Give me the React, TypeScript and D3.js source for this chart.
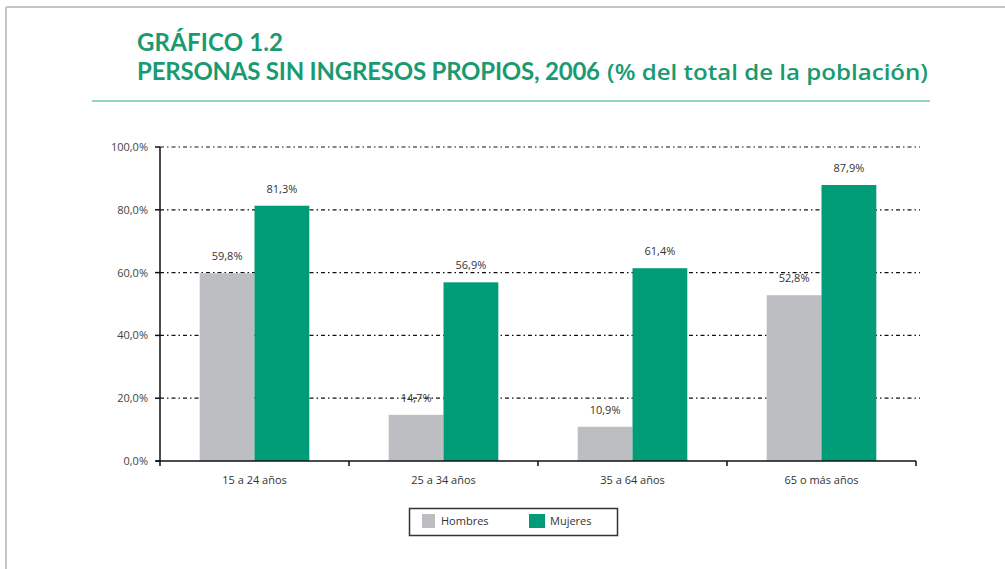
import React from "react";
import * as d3 from "d3";

const categories = ["15 a 24 años", "25 a 34 años", "35 a 64 años", "65 o más años"];
const series = ["Hombres", "Mujeres"];
const hombres = [59.8, 14.7, 10.9, 52.8];
const mujeres = [81.3, 56.9, 61.4, 87.9];
const yTicks = [0, 20, 40, 60, 80, 100];
const colors = ["#bdbec1", "#009b77"];

const fmt = (v: number) => v.toFixed(1).replace(".", ",") + "%";

export default function App() {
  const W = 1005, H = 569;
  const left = 160, right = 916, top = 147, bottom = 461;
  const y = d3.scaleLinear().domain([0, 100]).range([bottom, top]);
  const x0 = d3.scaleBand().domain(categories).range([left, right]).paddingInner(0.42).paddingOuter(0.21);
  const x1 = d3.scaleBand().domain(series).range([0, x0.bandwidth()]).padding(0);
  const step = x0.step();
  const values = [hombres, mujeres];
  const font = "'Open Sans', 'DejaVu Sans', sans-serif";
  const titleFont = "Lato, 'Open Sans', sans-serif";
  const green = "#1a9a70";

  return (
    <svg width={W} height={H} style={{ position: "absolute", left: 0, top: 0, background: "#fff" }}>
      {/* frame */}
      <line x1={6} y1={7} x2={W} y2={7} stroke="#c4c4c4" strokeWidth={2} />
      <line x1={6} y1={7} x2={6} y2={H} stroke="#c4c4c4" strokeWidth={2} />
      {/* title */}
      <text x={137} y={51} fontFamily={titleFont} fontWeight={700} fontSize={24} fill={green} textLength={146} lengthAdjust="spacing">GRÁFICO 1.2</text>
      <text x={137} y={80} fontFamily={titleFont} fontWeight={700} fontSize={24} fill={green} textLength={463} lengthAdjust="spacing">PERSONAS SIN INGRESOS PROPIOS, 2006</text>
      <text x={607} y={80} fontFamily="'Open Sans', sans-serif" fontWeight={600} fontSize={21} fill={green} textLength={321} lengthAdjust="spacingAndGlyphs">(% del total de la población)</text>
      <line x1={92} y1={101} x2={930} y2={101} stroke="#93d5bb" strokeWidth={2} />

      {/* grid */}
      {yTicks.filter((t) => t > 0).map((t) => (
        <line key={t} x1={left} x2={920} y1={y(t)} y2={y(t)} stroke="#111" strokeWidth={1.2} strokeDasharray="4,3,1.5,3" />
      ))}

      {/* bars */}
      {categories.map((c, i) => (
        <g key={c}>
          {series.map((s, j) => (
            <rect key={s} x={(x0(c) as number) + (x1(s) as number)} y={y(values[j][i])} width={x1.bandwidth()} height={bottom - y(values[j][i])} fill={colors[j]} />
          ))}
          {series.map((s, j) => (
            <text key={s + "l"} x={(x0(c) as number) + (x1(s) as number) + x1.bandwidth() / 2} y={y(values[j][i]) - 13} textAnchor="middle" fontFamily={font} fontSize={11} fill="#333">{fmt(values[j][i])}</text>
          ))}
          <text x={(x0(c) as number) + x0.bandwidth() / 2} y={484} textAnchor="middle" fontFamily={font} fontSize={11} fill="#333">{c}</text>
        </g>
      ))}

      {/* axes */}
      <line x1={left} x2={left} y1={top} y2={bottom} stroke="#111" strokeWidth={1.5} />
      <line x1={left - 4} x2={right} y1={bottom} y2={bottom} stroke="#111" strokeWidth={1.5} />
      {yTicks.map((t) => (
        <g key={t}>
          <line x1={left - 5} x2={left} y1={y(t)} y2={y(t)} stroke="#111" strokeWidth={1.5} />
          <text x={148} y={y(t) + 4} textAnchor="end" fontFamily={font} fontSize={11} fill="#444">{fmt(t)}</text>
        </g>
      ))}
      {d3.range(categories.length + 1).map((k) => (
        <line key={k} x1={left + k * step} x2={left + k * step} y1={bottom} y2={bottom + 5} stroke="#111" strokeWidth={1.5} />
      ))}

      {/* legend */}
      <rect x={409.5} y={508.5} width={208} height={27} fill="none" stroke="#333" strokeWidth={1.5} />
      <rect x={422} y={514} width={13} height={14} fill={colors[0]} />
      <text x={441} y={525} fontFamily={font} fontSize={11} fill="#333">{series[0]}</text>
      <rect x={529} y={514} width={16} height={14} fill={colors[1]} />
      <text x={550} y={525} fontFamily={font} fontSize={11} fill="#333">{series[1]}</text>
    </svg>
  );
}
